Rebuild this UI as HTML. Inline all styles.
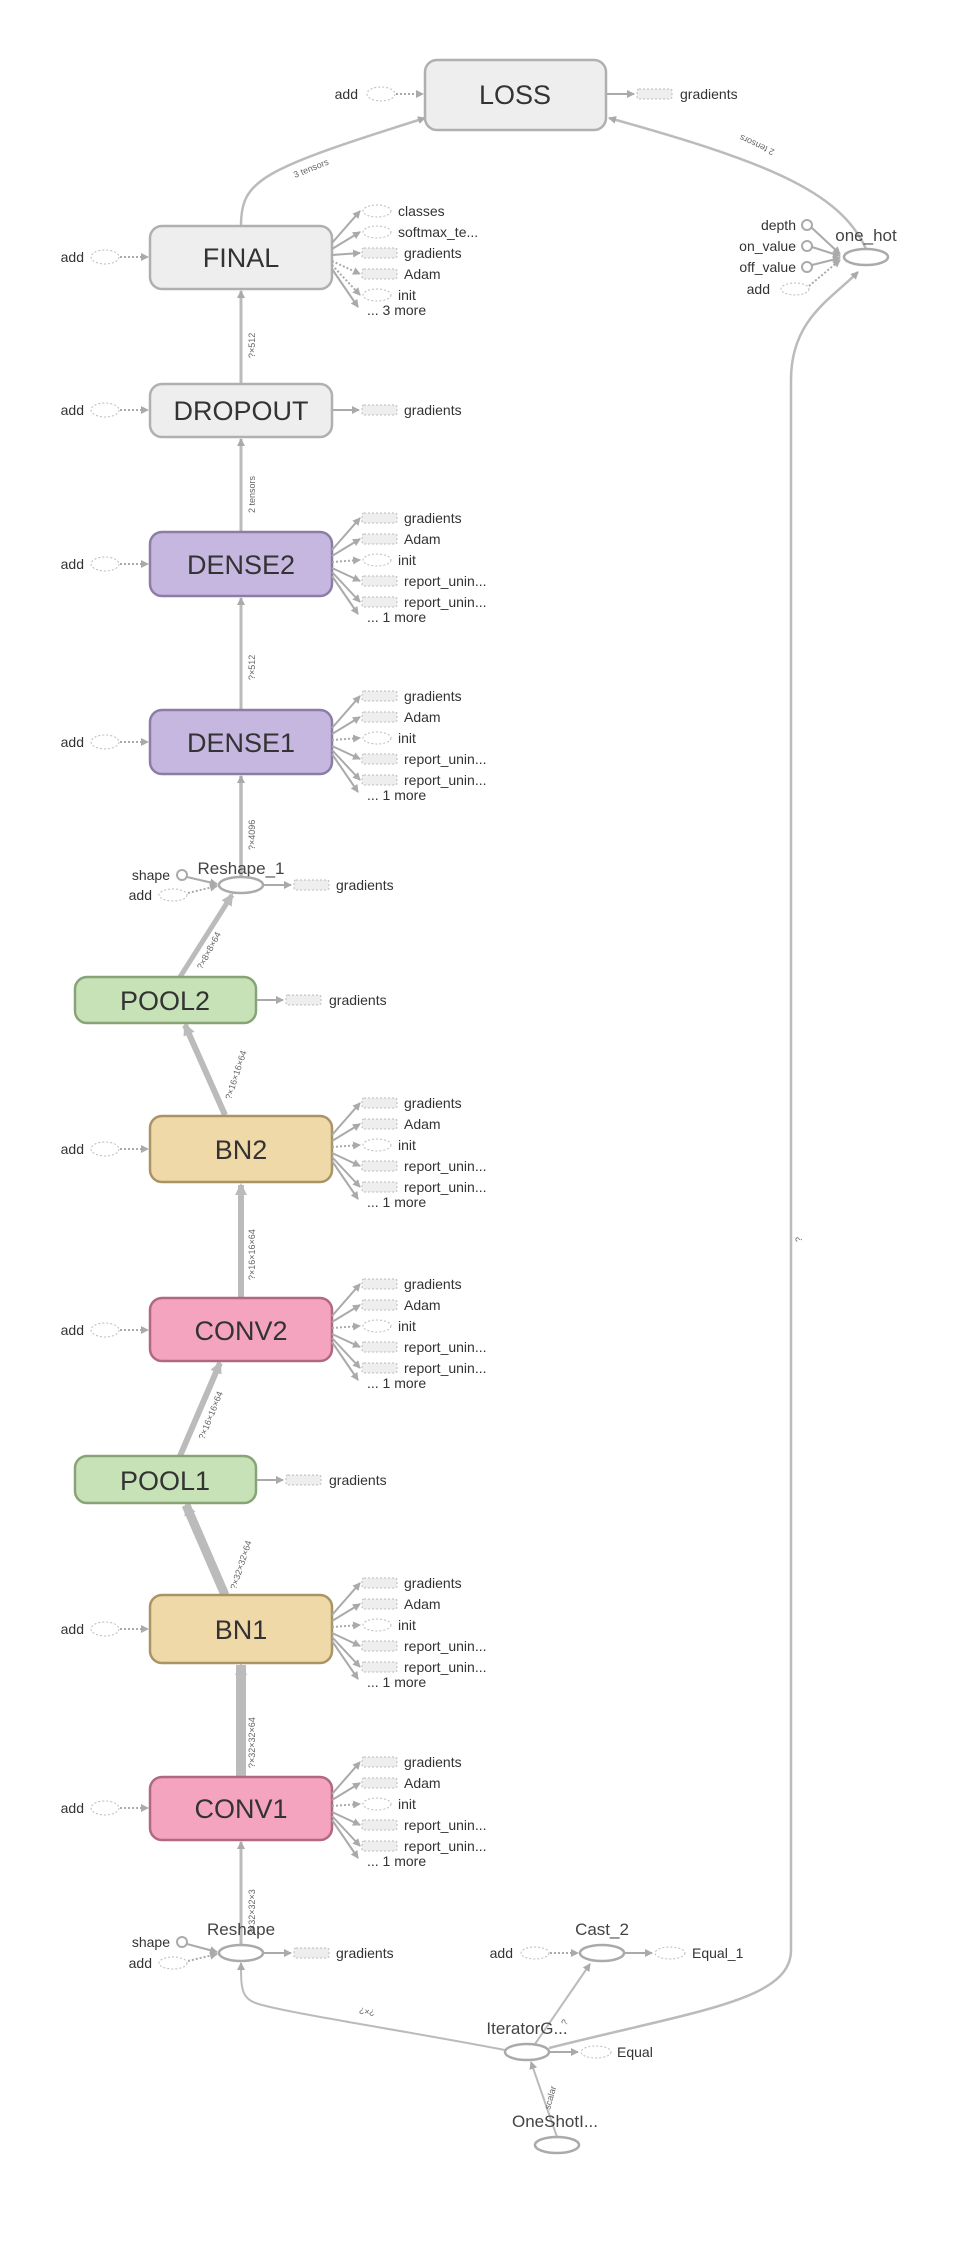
<!DOCTYPE html>
<html><head><meta charset="utf-8"><style>
html,body{margin:0;padding:0;background:#fff}
svg{display:block}
text{font-family:"Liberation Sans",sans-serif;fill:#333}
.lb{font-size:14px}
.bt{font-size:27px;text-anchor:middle;fill:#333}
.el{font-size:9px;fill:#666}
.nl{font-size:17px;text-anchor:middle;fill:#444}
</style></head><body>
<svg width="964" height="2241" viewBox="0 0 964 2241" xmlns="http://www.w3.org/2000/svg">
<defs>
<marker id="a" markerWidth="8" markerHeight="8" refX="7" refY="4" orient="auto" markerUnits="userSpaceOnUse"><path d="M0,0L8,4L0,8z" fill="#aaa"/></marker>
<marker id="ab" markerWidth="12" markerHeight="12" refX="10" refY="6" orient="auto" markerUnits="userSpaceOnUse"><path d="M0,0L12,6L0,12z" fill="#bbb"/></marker>
<g id="addL">
<text class="lb" x="84" y="5" text-anchor="end">add</text>
<ellipse cx="105" cy="0" rx="14" ry="7" fill="none" stroke="#bbb" stroke-dasharray="2,2"/>
<line x1="120" y1="0" x2="148" y2="0" stroke="#aaa" stroke-width="2" stroke-dasharray="2,2" marker-end="url(#a)"/>
</g>
<g id="rect"><rect x="0" y="-5" width="35" height="10" rx="2" fill="#eee" stroke="#bbb" stroke-dasharray="2,2"/></g>
<g id="ell"><ellipse cx="15" cy="0" rx="14" ry="6" fill="none" stroke="#bbb" stroke-dasharray="2,2"/></g>
<g id="outs">
<line x1="0" y1="-14" x2="28" y2="-46" stroke="#aaa" stroke-width="2" marker-end="url(#a)"/>
<line x1="0" y1="-8" x2="28" y2="-25" stroke="#aaa" stroke-width="2" marker-end="url(#a)"/>
<line x1="0" y1="-2" x2="28" y2="-4" stroke="#aaa" stroke-width="2" stroke-dasharray="2,2" marker-end="url(#a)"/>
<line x1="0" y1="4" x2="28" y2="17" stroke="#aaa" stroke-width="2" marker-end="url(#a)"/>
<line x1="0" y1="8" x2="28" y2="38" stroke="#aaa" stroke-width="2" marker-end="url(#a)"/>
<line x1="0" y1="12" x2="26" y2="50" stroke="#aaa" stroke-width="2" marker-end="url(#a)"/>
<use href="#rect" x="30" y="-46"/><use href="#rect" x="30" y="-25"/><use href="#ell" x="30" y="-4"/>
<use href="#rect" x="30" y="17"/><use href="#rect" x="30" y="38"/>
<text class="lb" x="72" y="-41">gradients</text><text class="lb" x="72" y="-20">Adam</text>
<text class="lb" x="66" y="1">init</text><text class="lb" x="72" y="22">report_unin...</text>
<text class="lb" x="72" y="43">report_unin...</text><text class="lb" x="35" y="58">... 1 more</text>
</g>
</defs>

<!-- edges -->
<g fill="none" stroke="#bbb">
<path d="M241,226 C241,180 260,170 425,118" stroke-width="2.5" marker-end="url(#a)"/>
<path d="M866,249 C840,190 760,160 609,118" stroke-width="2.5" marker-end="url(#a)"/>
<path d="M549,2048 C700,2010 791,2000 791,1950 L791,380 C791,320 830,300 858,272" stroke-width="2.5" marker-end="url(#a)"/>
<path d="M505,2050 C400,2030 300,2015 262,2005 C241,2000 241,1990 241,1963" stroke-width="2" marker-end="url(#a)"/>
<line x1="535" y1="2044" x2="590" y2="1964" stroke-width="2" marker-end="url(#a)"/>
<line x1="557" y1="2137" x2="531" y2="2062" stroke-width="2" marker-end="url(#a)"/>
<line x1="241" y1="384" x2="241" y2="291" stroke-width="3" marker-end="url(#a)"/>
<line x1="241" y1="532" x2="241" y2="439" stroke-width="3" marker-end="url(#a)"/>
<line x1="241" y1="710" x2="241" y2="598" stroke-width="3" marker-end="url(#a)"/>
<line x1="241" y1="877" x2="241" y2="776" stroke-width="3.5" marker-end="url(#a)"/>
<line x1="180" y1="977" x2="232" y2="895" stroke-width="5" marker-end="url(#ab)"/>
<line x1="225" y1="1115" x2="185" y2="1025" stroke-width="6" marker-end="url(#ab)"/>
<line x1="241" y1="1298" x2="241" y2="1185" stroke-width="6" marker-end="url(#ab)"/>
<line x1="180" y1="1456" x2="220" y2="1363" stroke-width="6" marker-end="url(#ab)"/>
<line x1="225" y1="1595" x2="186" y2="1505" stroke-width="9" marker-end="url(#ab)"/>
<line x1="241" y1="1777" x2="241" y2="1665" stroke-width="10" marker-end="url(#ab)"/>
<line x1="241" y1="1945" x2="241" y2="1842" stroke-width="3" marker-end="url(#a)"/>
</g>
<!-- edge labels -->
<text class="el" transform="translate(295,178) rotate(-22)">3 tensors</text>
<text class="el" transform="translate(775,150) rotate(205)">2 tensors</text>
<text class="el" transform="translate(255,358) rotate(-90)">?×512</text>
<text class="el" transform="translate(255,513) rotate(-90)">2 tensors</text>
<text class="el" transform="translate(255,680) rotate(-90)">?×512</text>
<text class="el" transform="translate(255,850) rotate(-90)">?×4096</text>
<text class="el" transform="translate(202,970) rotate(-62)">?×8×8×64</text>
<text class="el" transform="translate(231,1100) rotate(-72)">?×16×16×64</text>
<text class="el" transform="translate(255,1280) rotate(-90)">?×16×16×64</text>
<text class="el" transform="translate(204,1440) rotate(-68)">?×16×16×64</text>
<text class="el" transform="translate(236,1590) rotate(-72)">?×32×32×64</text>
<text class="el" transform="translate(255,1768) rotate(-90)">?×32×32×64</text>
<text class="el" transform="translate(255,1935) rotate(-90)">?×32×32×3</text>
<text class="el" transform="translate(802,1242) rotate(-90)">?</text>
<text class="el" transform="translate(375,2010) rotate(190)">?×?</text>
<text class="el" transform="translate(566,2026) rotate(-60)">?</text>
<text class="el" transform="translate(550,2110) rotate(-75)">scalar</text>

<!-- LOSS -->
<rect x="425" y="60" width="181" height="70" rx="12" fill="#eee" stroke="#b0b0b0" stroke-width="2.5"/>
<text class="bt" x="515" y="104">LOSS</text>
<text class="lb" x="358" y="99" text-anchor="end">add</text>
<ellipse cx="381" cy="94" rx="14" ry="7" fill="none" stroke="#bbb" stroke-dasharray="2,2"/>
<line x1="396" y1="94" x2="423" y2="94" stroke="#aaa" stroke-width="2" stroke-dasharray="2,2" marker-end="url(#a)"/>
<line x1="607" y1="94" x2="634" y2="94" stroke="#aaa" stroke-width="2" marker-end="url(#a)"/>
<use href="#rect" x="637" y="94"/><text class="lb" x="680" y="99">gradients</text>

<!-- FINAL -->
<rect x="150" y="226" width="182" height="63" rx="12" fill="#eee" stroke="#b0b0b0" stroke-width="2.5"/>
<text class="bt" x="241" y="267">FINAL</text>
<use href="#addL" y="257"/>
<g transform="translate(332,257)">
<line x1="0" y1="-14" x2="28" y2="-46" stroke="#aaa" stroke-width="2" marker-end="url(#a)"/>
<line x1="0" y1="-8" x2="28" y2="-25" stroke="#aaa" stroke-width="2" marker-end="url(#a)"/>
<line x1="0" y1="-2" x2="28" y2="-4" stroke="#aaa" stroke-width="2" marker-end="url(#a)"/>
<line x1="0" y1="4" x2="28" y2="17" stroke="#aaa" stroke-width="2" stroke-dasharray="2,2" marker-end="url(#a)"/>
<line x1="0" y1="8" x2="28" y2="38" stroke="#aaa" stroke-width="2" stroke-dasharray="2,2" marker-end="url(#a)"/>
<line x1="0" y1="12" x2="26" y2="50" stroke="#aaa" stroke-width="2" marker-end="url(#a)"/>
<use href="#ell" x="30" y="-46"/><use href="#ell" x="30" y="-25"/><use href="#rect" x="30" y="-4"/>
<use href="#rect" x="30" y="17"/><use href="#ell" x="30" y="38"/>
<text class="lb" x="66" y="-41">classes</text><text class="lb" x="66" y="-20">softmax_te...</text>
<text class="lb" x="72" y="1">gradients</text><text class="lb" x="72" y="22">Adam</text>
<text class="lb" x="66" y="43">init</text><text class="lb" x="35" y="58">... 3 more</text>
</g>

<!-- DROPOUT -->
<rect x="150" y="384" width="182" height="53" rx="12" fill="#eee" stroke="#b0b0b0" stroke-width="2.5"/>
<text class="bt" x="241" y="420">DROPOUT</text>
<use href="#addL" y="410"/>
<line x1="333" y1="410" x2="359" y2="410" stroke="#aaa" stroke-width="2" marker-end="url(#a)"/>
<use href="#rect" x="362" y="410"/><text class="lb" x="404" y="415">gradients</text>

<!-- DENSE2 -->
<rect x="150" y="532" width="182" height="64" rx="12" fill="#c6b7e1" stroke="#8c7da6" stroke-width="2.5"/>
<text class="bt" x="241" y="574">DENSE2</text>
<use href="#addL" y="564"/><use href="#outs" x="332" y="564"/>

<!-- DENSE1 -->
<rect x="150" y="710" width="182" height="64" rx="12" fill="#c6b7e1" stroke="#8c7da6" stroke-width="2.5"/>
<text class="bt" x="241" y="752">DENSE1</text>
<use href="#addL" y="742"/><use href="#outs" x="332" y="742"/>

<!-- Reshape_1 -->
<text class="nl" x="241" y="874">Reshape_1</text>
<ellipse cx="241" cy="885" rx="22" ry="8" fill="#fff" stroke="#aaa" stroke-width="2.5"/>
<text class="lb" x="170" y="880" text-anchor="end">shape</text>
<circle cx="182" cy="875" r="5" fill="#fff" stroke="#aaa" stroke-width="2"/>
<line x1="187" y1="877" x2="217" y2="884" stroke="#aaa" stroke-width="2" marker-end="url(#a)"/>
<text class="lb" x="152" y="900" text-anchor="end">add</text>
<ellipse cx="173" cy="895" rx="14" ry="6" fill="none" stroke="#bbb" stroke-dasharray="2,2"/>
<line x1="188" y1="893" x2="217" y2="886" stroke="#aaa" stroke-width="2" stroke-dasharray="2,2" marker-end="url(#a)"/>
<line x1="264" y1="885" x2="291" y2="885" stroke="#aaa" stroke-width="2" marker-end="url(#a)"/>
<use href="#rect" x="294" y="885"/><text class="lb" x="336" y="890">gradients</text>

<!-- POOL2 -->
<rect x="75" y="977" width="181" height="46" rx="12" fill="#c6e2b6" stroke="#88a378" stroke-width="2.5"/>
<text class="bt" x="165" y="1010">POOL2</text>
<line x1="257" y1="1000" x2="283" y2="1000" stroke="#aaa" stroke-width="2" marker-end="url(#a)"/>
<use href="#rect" x="286" y="1000"/><text class="lb" x="329" y="1005">gradients</text>

<!-- BN2 -->
<rect x="150" y="1116" width="182" height="66" rx="12" fill="#f0d9a8" stroke="#aa9466" stroke-width="2.5"/>
<text class="bt" x="241" y="1159">BN2</text>
<use href="#addL" y="1149"/><use href="#outs" x="332" y="1149"/>

<!-- CONV2 -->
<rect x="150" y="1298" width="182" height="63" rx="12" fill="#f4a4bf" stroke="#b06883" stroke-width="2.5"/>
<text class="bt" x="241" y="1340">CONV2</text>
<use href="#addL" y="1330"/><use href="#outs" x="332" y="1330"/>

<!-- POOL1 -->
<rect x="75" y="1456" width="181" height="47" rx="12" fill="#c6e2b6" stroke="#88a378" stroke-width="2.5"/>
<text class="bt" x="165" y="1490">POOL1</text>
<line x1="257" y1="1480" x2="283" y2="1480" stroke="#aaa" stroke-width="2" marker-end="url(#a)"/>
<use href="#rect" x="286" y="1480"/><text class="lb" x="329" y="1485">gradients</text>

<!-- BN1 -->
<rect x="150" y="1595" width="182" height="68" rx="12" fill="#f0d9a8" stroke="#aa9466" stroke-width="2.5"/>
<text class="bt" x="241" y="1639">BN1</text>
<use href="#addL" y="1629"/><use href="#outs" x="332" y="1629"/>

<!-- CONV1 -->
<rect x="150" y="1777" width="182" height="63" rx="12" fill="#f4a4bf" stroke="#b06883" stroke-width="2.5"/>
<text class="bt" x="241" y="1818">CONV1</text>
<use href="#addL" y="1808"/><use href="#outs" x="332" y="1808"/>

<!-- Reshape -->
<text class="nl" x="241" y="1935">Reshape</text>
<ellipse cx="241" cy="1953" rx="22" ry="8" fill="#fff" stroke="#aaa" stroke-width="2.5"/>
<text class="lb" x="170" y="1947" text-anchor="end">shape</text>
<circle cx="182" cy="1942" r="5" fill="#fff" stroke="#aaa" stroke-width="2"/>
<line x1="187" y1="1944" x2="217" y2="1952" stroke="#aaa" stroke-width="2" marker-end="url(#a)"/>
<text class="lb" x="152" y="1968" text-anchor="end">add</text>
<ellipse cx="173" cy="1963" rx="14" ry="6" fill="none" stroke="#bbb" stroke-dasharray="2,2"/>
<line x1="188" y1="1961" x2="217" y2="1954" stroke="#aaa" stroke-width="2" stroke-dasharray="2,2" marker-end="url(#a)"/>
<line x1="264" y1="1953" x2="291" y2="1953" stroke="#aaa" stroke-width="2" marker-end="url(#a)"/>
<use href="#rect" x="294" y="1953"/><text class="lb" x="336" y="1958">gradients</text>

<!-- Cast_2 -->
<text class="nl" x="602" y="1935">Cast_2</text>
<ellipse cx="602" cy="1953" rx="22" ry="8" fill="#fff" stroke="#aaa" stroke-width="2.5"/>
<text class="lb" x="513" y="1958" text-anchor="end">add</text>
<ellipse cx="535" cy="1953" rx="14" ry="6" fill="none" stroke="#bbb" stroke-dasharray="2,2"/>
<line x1="550" y1="1953" x2="578" y2="1953" stroke="#aaa" stroke-width="2" stroke-dasharray="2,2" marker-end="url(#a)"/>
<line x1="625" y1="1953" x2="652" y2="1953" stroke="#aaa" stroke-width="2" marker-end="url(#a)"/>
<ellipse cx="670" cy="1953" rx="15" ry="6" fill="none" stroke="#bbb" stroke-dasharray="2,2"/>
<text class="lb" x="692" y="1958">Equal_1</text>

<!-- IteratorG -->
<text class="nl" x="527" y="2034">IteratorG...</text>
<ellipse cx="527" cy="2052" rx="22" ry="8" fill="#fff" stroke="#aaa" stroke-width="2.5"/>
<line x1="549" y1="2052" x2="578" y2="2052" stroke="#aaa" stroke-width="2" marker-end="url(#a)"/>
<ellipse cx="596" cy="2052" rx="15" ry="6" fill="none" stroke="#bbb" stroke-dasharray="2,2"/>
<text class="lb" x="617" y="2057">Equal</text>

<!-- OneShot -->
<text class="nl" x="555" y="2127">OneShotI...</text>
<ellipse cx="557" cy="2145" rx="22" ry="8" fill="#fff" stroke="#aaa" stroke-width="2.5"/>

<!-- one_hot -->
<text class="nl" x="866" y="241">one_hot</text>
<ellipse cx="866" cy="257" rx="22" ry="8" fill="#fff" stroke="#aaa" stroke-width="2.5"/>
<text class="lb" x="796" y="230" text-anchor="end">depth</text>
<text class="lb" x="796" y="251" text-anchor="end">on_value</text>
<text class="lb" x="796" y="272" text-anchor="end">off_value</text>
<text class="lb" x="770" y="294" text-anchor="end">add</text>
<circle cx="807" cy="225" r="5" fill="#fff" stroke="#aaa" stroke-width="2"/>
<circle cx="807" cy="246" r="5" fill="#fff" stroke="#aaa" stroke-width="2"/>
<circle cx="807" cy="267" r="5" fill="#fff" stroke="#aaa" stroke-width="2"/>
<ellipse cx="795" cy="289" rx="14" ry="6" fill="none" stroke="#bbb" stroke-dasharray="2,2"/>
<line x1="812" y1="228" x2="840" y2="254" stroke="#aaa" stroke-width="2" marker-end="url(#a)"/>
<line x1="812" y1="247" x2="840" y2="256" stroke="#aaa" stroke-width="2" marker-end="url(#a)"/>
<line x1="812" y1="265" x2="840" y2="258" stroke="#aaa" stroke-width="2" marker-end="url(#a)"/>
<line x1="809" y1="286" x2="840" y2="260" stroke="#aaa" stroke-width="2" stroke-dasharray="2,2" marker-end="url(#a)"/>
</svg>
</body></html>
